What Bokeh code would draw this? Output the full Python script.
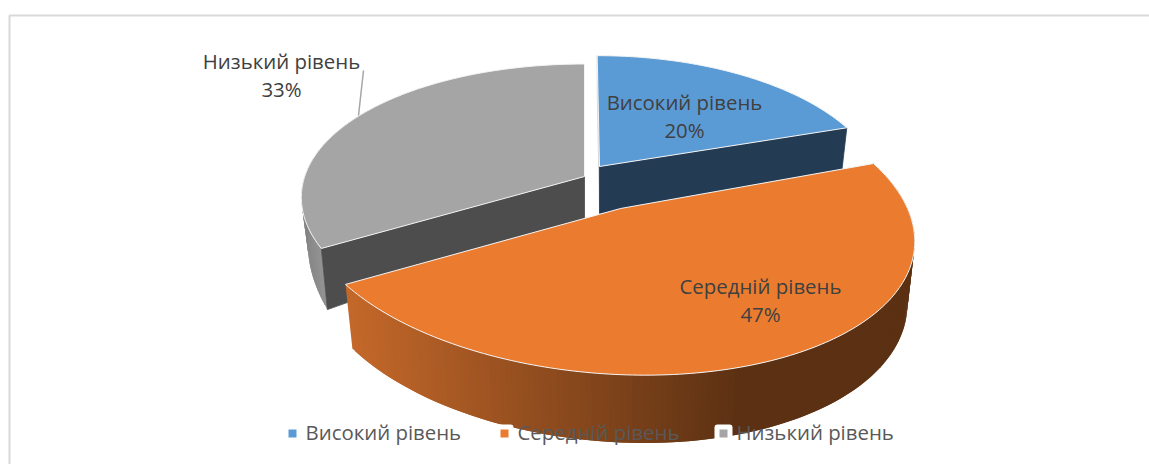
import math
from bokeh.plotting import figure
from bokeh.models import Range1d
from bokeh.core.properties import value
from bokeh.embed import file_html
from bokeh.resources import INLINE

categories = ["Високий рівень", "Середній рівень", "Низький рівень"]
percent = [20, 47, 33]

FONT = value("Open Sans")
FS = "20.4px"
top_colors = ["#5b9bd5", "#eb7c2f", "#a5a5a5"]
# placement of each exploded slice: apex, radii, perspective, shear, depth
geom = [
    dict(ax=599, ay=166, c=0, R=277, K=133, p=0.2, s=-0.01, D=47, q=0.3, sc=0.98),
    dict(ax=620, ay=208, c=-15, R=302, K=150, p=0.1, s=-0.118, D=61, q=0.1, sc=0.975),
    dict(ax=584, ay=176, c=12.2, R=292, K=135, p=0.2, s=-0.05, D=42, q=0.65, sc=0.977),
]

def pt(g, deg, lower=False):
    a = math.radians(deg)
    u, v = math.sin(a), math.cos(a)
    w = 1 + g["p"] * v
    dx, dy = g["c"] + g["R"] * (u + g["s"] * v) / w, -g["K"] * v / w
    if lower:
        return g["ax"] + g["sc"] * dx, g["ay"] + dy + g["D"] / (1 + g["q"] * v)
    return g["ax"] + dx, g["ay"] + dy

def sweep(a0, a1, step=1.0):
    n = max(2, int(abs(a1 - a0) / step))
    return [a0 + (a1 - a0) * i / n for i in range(n + 1)]

def mix(c0, c1, t):
    t = max(0, min(1, t))
    return "#%02x%02x%02x" % tuple(round(a + (b - a) * t) for a, b in zip(c0, c1))

angles = [0]
for pv in percent:
    angles.append(angles[-1] + pv * 3.6)

p = figure(width=1149, height=464, x_range=Range1d(0, 1149), y_range=Range1d(464, 0),
           toolbar_location=None, output_backend="svg", min_border=0,
           outline_line_color=None, background_fill_color="white", border_fill_color="white")
p.xaxis.visible = False
p.yaxis.visible = False
p.grid.visible = False

p.line([9, 9, 1149], [464, 15, 15], line_color="#d9d9d9", line_width=2)

def poly(xs, ys, fill, line=None, lw=0.8):
    p.patch(xs, ys, fill_color=fill, line_color=line or fill, line_width=lw)

def flat_wall(g, deg, fill):
    a, b = (g["ax"], g["ay"]), pt(g, deg)
    c, d = pt(g, deg, True), (g["ax"], g["ay"] + g["D"])
    poly([a[0], b[0], c[0], d[0]], [a[1], b[1], c[1], d[1]], fill)

def curved_wall(g, a0, a1, colorf):
    # overlapping strips painted in order, so that no seams show between them
    s = sweep(a0, a1, 1.0)
    for d0, d1 in zip(s[:-1], s[2:] + [s[-1]]):
        t0, t1 = pt(g, d0), pt(g, d1)
        b1, b0 = pt(g, d1, True), pt(g, d0, True)
        xs = [t0[0], t1[0], b1[0], b0[0]]
        ys = [t0[1], t1[1], b1[1], b0[1]]
        c = colorf(sum(xs) / 4)
        p.patch(xs, ys, fill_color=c, line_color=None)

def top(g, a0, a1, fill):
    pts = [pt(g, d) for d in sweep(a0, a1)]
    poly([g["ax"]] + [q[0] for q in pts], [g["ay"]] + [q[1] for q in pts], fill, "#f4f4f4", 1)

# grey slice
g = geom[2]
curved_wall(g, angles[2], angles[2] + 62, lambda x: mix((0x80, 0x80, 0x80), (0x9a, 0x9a, 0x9a), (x - 300) / 30))
flat_wall(g, angles[2], "#4d4d4d")
top(g, angles[2], angles[3], top_colors[2])
# blue slice
g = geom[0]
flat_wall(g, angles[0], "#cfcfcf")
flat_wall(g, angles[1], "#243c53")
top(g, angles[0], angles[1], top_colors[0])
# orange slice
g = geom[1]
curved_wall(g, angles[2], angles[1], lambda x: mix((0xc4, 0x68, 0x2a), (0x5c, 0x31, 0x13), (x - 350) / 390))
top(g, angles[1], angles[2], top_colors[1])

# leader line
p.line([363, 358], [70, 115], line_color="#a6a6a6", line_width=1.5)

# data labels
lab_x = [684, 760, 281]
lab_y = [101, 285, 60]
for c, v, x, y in zip(categories, percent, lab_x, lab_y):
    p.text([x], [y], text=[c], text_align="center", text_baseline="middle",
           text_font=FONT, text_font_size=FS, text_color="#404040")
    p.text([x], [y + 28], text=[f"{v}%"], text_align="center", text_baseline="middle",
           text_font=FONT, text_font_size=FS, text_color="#404040")

# legend
leg_x = [292, 504, 723]
leg_y = 433
p.quad(left=[495, 714], right=[513, 732], top=[424, 424], bottom=[443, 443],
       fill_color="white", line_color=None, border_radius=3)
p.scatter(leg_x, [leg_y] * 3, marker="square", size=8, fill_color=top_colors, line_color=None)
p.text([x + 13 for x in leg_x], [leg_y - 2] * 3, text=categories, text_align="left", text_baseline="middle",
       text_font=FONT, text_font_size=FS, text_color="#595959")

open("out.html", "w").write(file_html(p, INLINE))
